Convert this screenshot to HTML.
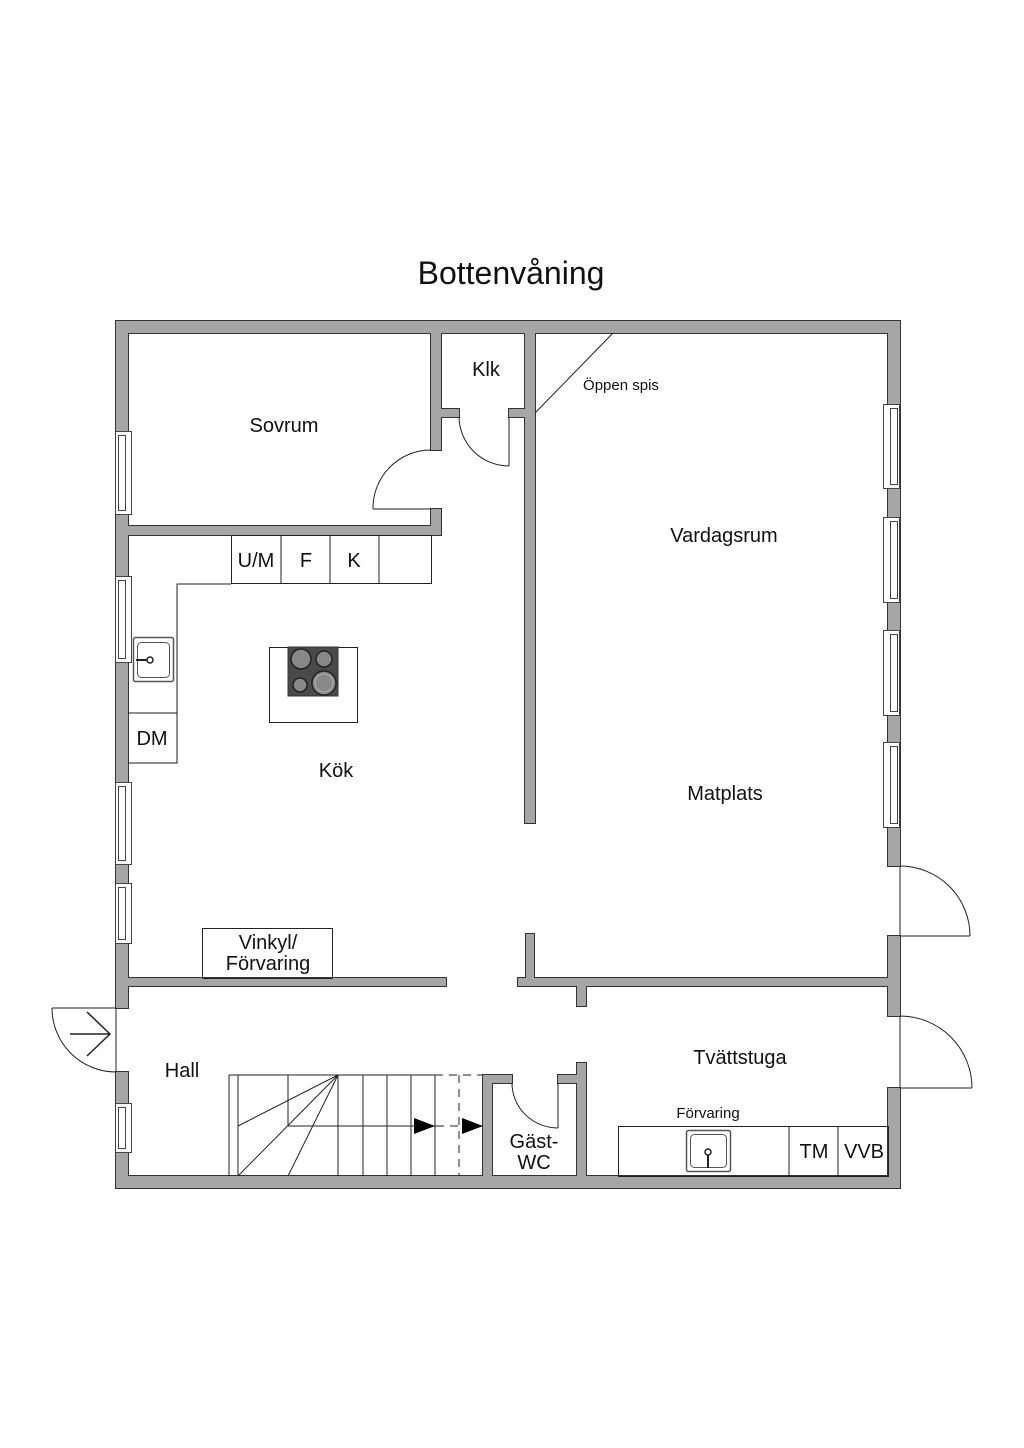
<!DOCTYPE html>
<html><head><meta charset="utf-8"><style>
html,body{margin:0;padding:0;background:#fff;}
svg{display:block;}
text{font-family:"Liberation Sans",sans-serif;fill:#111;}
</style></head><body>
<svg width="1024" height="1448" viewBox="0 0 1024 1448" xmlns="http://www.w3.org/2000/svg">
<rect width="1024" height="1448" fill="#fff"/>
<text x="511" y="284" font-size="32" text-anchor="middle">Bottenvåning</text>

<g fill="#a6a6a6" stroke="#333" stroke-width="2">
<rect x="116" y="321" width="784" height="12"/>
<rect x="116" y="1176" width="784" height="12"/>
<rect x="116" y="321" width="12" height="867"/>
<rect x="888" y="321" width="12" height="867"/>
<rect x="431" y="333" width="10" height="117"/>
<rect x="431" y="409" width="28" height="8"/>
<rect x="431" y="509" width="10" height="26"/>
<rect x="128" y="526" width="313" height="9"/>
<rect x="525" y="333" width="10" height="490"/>
<rect x="509" y="409" width="26" height="8"/>
<rect x="128" y="978" width="318" height="8"/>
<rect x="518" y="978" width="370" height="8"/>
<rect x="526" y="934" width="8" height="52"/>
<rect x="577" y="978" width="9" height="28"/>
<rect x="483" y="1075" width="9" height="101"/>
<rect x="483" y="1075" width="29" height="8"/>
<rect x="558" y="1075" width="28" height="8"/>
<rect x="577" y="1063" width="9" height="113"/>
</g>
<g fill="#a6a6a6">
<rect x="116" y="321" width="784" height="12"/>
<rect x="116" y="1176" width="784" height="12"/>
<rect x="116" y="321" width="12" height="867"/>
<rect x="888" y="321" width="12" height="867"/>
<rect x="431" y="333" width="10" height="117"/>
<rect x="431" y="409" width="28" height="8"/>
<rect x="431" y="509" width="10" height="26"/>
<rect x="128" y="526" width="313" height="9"/>
<rect x="525" y="333" width="10" height="490"/>
<rect x="509" y="409" width="26" height="8"/>
<rect x="128" y="978" width="318" height="8"/>
<rect x="518" y="978" width="370" height="8"/>
<rect x="526" y="934" width="8" height="52"/>
<rect x="577" y="978" width="9" height="28"/>
<rect x="483" y="1075" width="9" height="101"/>
<rect x="483" y="1075" width="29" height="8"/>
<rect x="558" y="1075" width="28" height="8"/>
<rect x="577" y="1063" width="9" height="113"/>
</g>

<g fill="#fff">
<rect x="113" y="1009" width="17" height="62"/>
<rect x="886" y="867" width="17" height="68"/>
<rect x="886" y="1017" width="17" height="70"/>
</g>
<g stroke="#333" stroke-width="1">
<line x1="116" y1="1008.5" x2="128" y2="1008.5"/>
<line x1="116" y1="1071.5" x2="128" y2="1071.5"/>
<line x1="888" y1="866.5" x2="900" y2="866.5"/>
<line x1="888" y1="935.5" x2="900" y2="935.5"/>
<line x1="888" y1="1016.5" x2="900" y2="1016.5"/>
<line x1="888" y1="1087.5" x2="900" y2="1087.5"/>
</g>

<g fill="#fff" stroke="#444" stroke-width="1">
<rect x="115.5" y="431.5" width="16" height="83"/>
<rect x="118.5" y="435.5" width="7" height="75"/>
<rect x="115.5" y="576.5" width="16" height="86"/>
<rect x="118.5" y="580.5" width="7" height="78"/>
<rect x="115.5" y="782.5" width="16" height="82"/>
<rect x="118.5" y="786.5" width="7" height="74"/>
<rect x="115.5" y="883.5" width="16" height="60"/>
<rect x="118.5" y="887.5" width="7" height="52"/>
<rect x="115.5" y="1103.5" width="16" height="49"/>
<rect x="118.5" y="1107.5" width="7" height="41"/>

<rect x="883.5" y="404.5" width="16" height="84"/>
<rect x="890.5" y="408.5" width="7" height="76"/>
<rect x="883.5" y="517.5" width="16" height="85"/>
<rect x="890.5" y="521.5" width="7" height="77"/>
<rect x="883.5" y="630.5" width="16" height="85"/>
<rect x="890.5" y="634.5" width="7" height="77"/>
<rect x="883.5" y="742.5" width="16" height="85"/>
<rect x="890.5" y="746.5" width="7" height="77"/>
</g>

<g fill="none" stroke="#222" stroke-width="1">
<line x1="373" y1="509" x2="431" y2="509"/>
<path d="M373,509 A58,58 0 0 1 431,450"/>
<line x1="509" y1="417" x2="509" y2="466"/>
<path d="M459,417 A50,50 0 0 0 509,466"/>
<line x1="116" y1="1008" x2="116" y2="1072"/>
<line x1="52" y1="1008" x2="116" y2="1008"/>
<path d="M52,1008 A64,64 0 0 0 116,1072"/>
<line x1="900" y1="866" x2="900" y2="936"/>
<line x1="900" y1="936" x2="970" y2="936"/>
<path d="M900,866 A70,70 0 0 1 970,936"/>
<line x1="900" y1="1016" x2="900" y2="1088"/>
<line x1="900" y1="1088" x2="972" y2="1088"/>
<path d="M900,1016 A72,72 0 0 1 972,1088"/>
<line x1="558" y1="1083" x2="558" y2="1128"/>
<path d="M512,1083 A46,45 0 0 0 558,1128"/>
<line x1="535" y1="413" x2="613" y2="333"/>
<rect x="231.5" y="535.5" width="200" height="48"/>
<line x1="281" y1="535" x2="281" y2="584"/>
<line x1="330" y1="535" x2="330" y2="584"/>
<line x1="379" y1="535" x2="379" y2="584"/>
<polyline points="231,584 177,584 177,763 128,763"/>
<line x1="128" y1="713" x2="177" y2="713"/>
<rect x="269.5" y="647.5" width="88" height="75"/>
<rect x="202.5" y="928.5" width="130" height="50"/>
<rect x="618.5" y="1126.5" width="270" height="50"/>
<line x1="789" y1="1126" x2="789" y2="1176"/>
<line x1="838" y1="1126" x2="838" y2="1176"/>
<line x1="229" y1="1075" x2="435" y2="1075"/>
<line x1="435" y1="1075" x2="483" y2="1075" stroke-dasharray="8,6"/>
<line x1="229" y1="1075" x2="229" y2="1176"/>
<line x1="238" y1="1075" x2="238" y2="1176"/>
<line x1="288" y1="1075" x2="288" y2="1126"/>
<line x1="338" y1="1075" x2="238" y2="1126"/>
<line x1="338" y1="1075" x2="238" y2="1176"/>
<line x1="338" y1="1075" x2="288" y2="1176"/>
<line x1="338" y1="1075" x2="338" y2="1176"/>
<line x1="363" y1="1075" x2="363" y2="1176"/>
<line x1="387" y1="1075" x2="387" y2="1176"/>
<line x1="411" y1="1075" x2="411" y2="1176"/>
<line x1="435" y1="1075" x2="435" y2="1176"/>
<line x1="459" y1="1075" x2="459" y2="1176" stroke-dasharray="8,6"/>
<line x1="288" y1="1126" x2="436" y2="1126"/>
<line x1="436" y1="1126" x2="483" y2="1126" stroke-dasharray="8,6"/>
<line x1="70" y1="1034" x2="110" y2="1034" stroke-width="1.5"/>
<polyline points="87,1012 110,1034 87,1056" stroke-width="1.5"/>
</g>
<polygon points="414,1118 435,1126 414,1134" fill="#000"/>
<polygon points="462,1118 483,1126 462,1134" fill="#000"/>

<g fill="#fff" stroke="#555">
<rect x="133.5" y="637.5" width="40" height="44" rx="2" stroke-width="1.5"/>
<rect x="137.5" y="642.5" width="32" height="35" rx="4"/>
<rect x="686.5" y="1130.5" width="44" height="41" rx="2" stroke-width="1.5"/>
<rect x="690.5" y="1134.5" width="36" height="33" rx="4"/>
</g>
<line x1="136" y1="660" x2="148" y2="660" stroke="#222" stroke-width="2"/>
<circle cx="150" cy="660" r="3" fill="#fff" stroke="#222" stroke-width="1.5"/>
<line x1="708" y1="1153" x2="708" y2="1168" stroke="#222" stroke-width="2"/>
<circle cx="708" cy="1152" r="3" fill="#fff" stroke="#222" stroke-width="1.5"/>

<rect x="288" y="647" width="50" height="49" fill="#4a4a4a" stroke="#333"/>
<g fill="#888" stroke="#222" stroke-width="1.5">
<circle cx="301" cy="659" r="10"/>
<circle cx="324" cy="659" r="8"/>
<circle cx="300" cy="685" r="7"/>
<circle cx="324" cy="683" r="12"/>
</g>
<circle cx="324" cy="683" r="9" fill="none" stroke="#bbb" stroke-width="0.8"/>

<g font-size="20" text-anchor="middle">
<text x="284" y="432">Sovrum</text>
<text x="486" y="376">Klk</text>
<text x="724" y="542">Vardagsrum</text>
<text x="725" y="800">Matplats</text>
<text x="336" y="777">Kök</text>
<text x="182" y="1077">Hall</text>
<text x="740" y="1064">Tvättstuga</text>
<text x="256" y="567">U/M</text>
<text x="306" y="567">F</text>
<text x="354" y="567">K</text>
<text x="152" y="745">DM</text>
<text x="268" y="949">Vinkyl/</text>
<text x="268" y="970">Förvaring</text>
<text x="534" y="1148">Gäst-</text>
<text x="534" y="1169">WC</text>
<text x="814" y="1158">TM</text>
<text x="864" y="1158">VVB</text>
</g>
<text x="621" y="390" font-size="15" text-anchor="middle">Öppen spis</text>
<text x="708" y="1118" font-size="15" text-anchor="middle">Förvaring</text>
</svg>
</body></html>
